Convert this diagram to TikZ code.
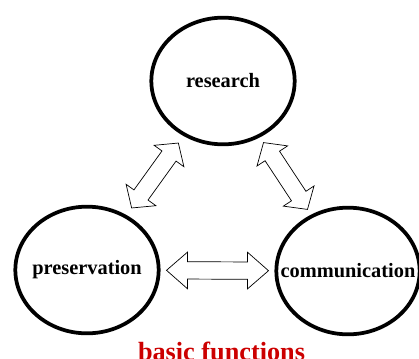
\documentclass[tikz,border=0pt]{standalone}
\usepackage{fontspec}
\setmainfont{Liberation Serif}
\usepackage{xcolor}
\usetikzlibrary{shapes.geometric, calc}
\definecolor{fnred}{RGB}{204,0,0}

% point on the axis of a two-way arrow
\newcommand\ap[2]{($(mid)+(\n1:#1cm)+(\n2:#2cm)$)}
% hollow two-way arrow between two nodes: half length, head length
\newcommand\twoway[4]{%
  \pgfmathsetmacro\hb{#3-#4}%
  \coordinate (mid) at ($(#1)!0.5!(#2)$);
  \draw[twoarrow] let \p1=($(#2)-(#1)$), \n1={atan2(\y1,\x1)}, \n2={\n1+90} in
    \ap{#3}{0} -- \ap{\hb}{0.55} -- \ap{\hb}{0.26} -- \ap{-\hb}{0.26}
    -- \ap{-\hb}{0.55} -- \ap{-#3}{0} -- \ap{-\hb}{-0.55} -- \ap{-\hb}{-0.26}
    -- \ap{\hb}{-0.26} -- \ap{\hb}{-0.55} -- cycle;
}

\tikzset{
  func/.style={ellipse, draw=black, line width=3.2pt, inner sep=0pt,
    minimum width=4.3cm, minimum height=3.8cm},
  funclabel/.style={inner sep=0pt, font=\fontsize{17.4}{20}\selectfont\bfseries},
  twoarrow/.style={draw=black, fill=white, line width=0.6pt, line join=miter}
}

\begin{document}
\begin{tikzpicture}[x=0.03cm, y=-0.03cm]
\useasboundingbox (0,0) rectangle (419,358);
% the three functions
\node[func, label={[funclabel]center:research}] (res) at (223,81) {};
\node[func, label={[funclabel]center:preservation}] (pres) at (87,270) {};
\node[func, label={[funclabel]center:communication}] (comm) at (348,271) {};
% arrows between them
\twoway{pres}{res}{1.2}{0.48}
\twoway{res}{comm}{1.2}{0.48}
\twoway{pres}{comm}{1.53}{0.63}
% caption
\node[anchor=base, text=fnred, font=\fontsize{22.4}{26}\selectfont\bfseries]
  (cap) at (221.5,360) {basic functions};
\end{tikzpicture}
\end{document}
